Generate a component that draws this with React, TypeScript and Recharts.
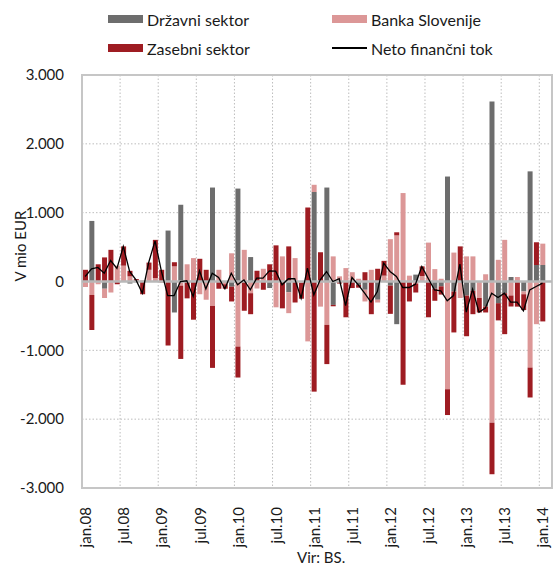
import { ComposedChart, Bar, Line, XAxis, YAxis, CartesianGrid, ReferenceLine, ReferenceArea } from 'recharts';

const monthNames = ['jan', 'feb', 'mar', 'apr', 'maj', 'jun', 'jul', 'avg', 'sep', 'okt', 'nov', 'dec'];
const years = ['08', '09', '10', '11', '12', '13', '14'];
const months = years.flatMap((y) => monthNames.map((m) => `${m}.${y}`)).slice(0, 74);

// mio EUR, jan.08 - jan.14 (feb.14 empty)
const drzavni = [
  0, 880, 0, -105, 0, 0, 0, -30, -10, 0, 0, 0,
  0, 740, -450, 1115, 0, 0, 0, 0, 1365, 0, 0, -75,
  1350, 0, 355, 0, 0, -95, 0, 0, -155, 0, 0, 0,
  1300, 0, 1365, -340, 0, 0, 0, -50, -120, 0, -265, 0,
  -60, -620, 0, 0, 100, 0, 0, -105, -70, 1525, -145, 0,
  -205, -135, 0, -365, 2615, -315, -170, 65, 0, -145, 1600, 240,
  240, null,
];
const bankaSlovenije = [
  -80, -195, -40, -135, -160, 230, 230, 75, 10, 15, 170, 50,
  -20, 0, 220, -60, 250, 340, -185, -265, -355, 170, -40, 410,
  -945, 460, -170, -100, 185, 0, -375, 365, -305, 340, -20, -870,
  105, -365, -630, 365, 75, 195, 135, 40, -170, 170, -40, 85,
  615, 670, 1285, 85, -30, 80, 565, 180, 40, -1565, 420, -240,
  365, 365, -240, 105, -2050, 315, 605, -205, 65, -40, -1250, -620,
  310, null,
];
const zasebni = [
  170, -510, 250, 350, 460, -40, 280, 80, 25, -185, 105, 555,
  170, -930, 60, -1065, -245, -555, 330, 170, -900, -105, -65, -215,
  -450, -425, -305, 155, -120, 250, 525, -390, 510, -305, -230, 1075,
  -1600, 425, -570, -20, -30, -520, -95, -40, 135, -475, 185, 215,
  -410, 45, -1500, -290, -130, 140, -520, -175, -120, -375, -595, 510,
  -590, -340, -210, -85, -750, -250, -595, -160, -365, -230, -435, 330,
  -580, null,
];
const neto = [
  73, 185, 204, 121, 305, 190, 509, 145, 24, -170, 276, 590,
  150, -204, -204, 0, 10, -218, 155, -107, 121, 58, -107, 121,
  -48, 24, -121, 48, 48, 155, 150, -48, 40, 40, -243, 194,
  -194, 24, 145, 0, 40, -349, 58, -48, -170, -300, -146, 266,
  145, 73, -87, -87, -39, 218, 48, -121, -136, -281, -204, 252,
  -446, -112, -446, -387, -170, -233, -170, -300, -300, -426, -121, -73,
  -24, null,
];
const yTicks = [-3000, -2000, -1000, 0, 1000, 2000, 3000];

const data = months.map((m, i) => ({
  month: m,
  drzavni: drzavni[i],
  bs: bankaSlovenije[i],
  zasebni: zasebni[i],
  neto: neto[i],
}));

const FONT = 'Lato, sans-serif';
const GRAY = '#6d6d6d';
const PINK = '#dc9797';
const RED = '#9e1c22';

const fmt = (v: number) => (v < 0 ? '-' : '') + String(Math.abs(v)).replace(/\B(?=(\d{3})+(?!\d))/g, '.');

const MonthTick = ({ x, y, payload }: any) => (
  <text
    x={x}
    y={y}
    transform={`rotate(-90 ${x} ${y})`}
    textAnchor="end"
    dominantBaseline="central"
    fill="#1a1a1a"
    fontSize={15}
    fontFamily={FONT}
  >
    {payload.value}
  </text>
);

const LegendItem = ({ left, top, label, color, line }: any) => (
  <div style={{ position: 'absolute', left, top, height: 20, display: 'flex', alignItems: 'center' }}>
    <div style={{ width: 35, height: line ? 1.5 : 8, background: color, marginRight: 4 }} />
    <span style={{ fontSize: 16, color: '#1a1a1a', whiteSpace: 'nowrap' }}>{label}</span>
  </div>
);

export default function App() {
  const n = months.length;
  return (
    <div style={{ position: 'absolute', left: 0, top: 0, width: 553, height: 567, background: '#fff', fontFamily: FONT, overflow: 'hidden' }}>
      <LegendItem left={108} top={9} label="Državni sektor" color={GRAY} />
      <LegendItem left={332} top={9} label="Banka Slovenije" color={PINK} />
      <LegendItem left={108} top={38} label="Zasebni sektor" color={RED} />
      <LegendItem left={332} top={38} label="Neto finančni tok" color="#000" line />

      <ComposedChart
        width={553}
        height={567}
        data={data}
        stackOffset="sign"
        barSize={5}
        margin={{ top: 75, right: 1, bottom: 49, left: 0 }}
        style={{ position: 'absolute', left: 0, top: 0 }}
      >
        <CartesianGrid
          stroke="#bdbdbd"
          strokeDasharray="1.5 2"
          verticalCoordinatesGenerator={({ offset }: any) => {
            const left = offset?.left ?? 82;
            const width = offset?.width ?? 470;
            const out: number[] = [];
            for (let k = 6; k < n; k += 6) out.push(left + (width * k) / n);
            return out;
          }}
        />
        <XAxis
          dataKey="month"
          height={30}
          interval={5}
          axisLine={false}
          tickLine={false}
          tickMargin={13}
          tick={<MonthTick />}
        />
        <YAxis
          width={82}
          domain={[-3000, 3000]}
          ticks={yTicks}
          tickFormatter={fmt}
          axisLine={false}
          tickLine={false}
          tickMargin={12}
          tick={{ fill: '#1a1a1a', fontSize: 15, fontFamily: FONT }}
          label={{ value: 'V mio EUR', angle: -90, position: 'insideLeft', dx: 16, fill: '#1a1a1a', fontSize: 15, fontFamily: FONT }}
        />
        <Bar dataKey="drzavni" stackId="a" fill={GRAY} isAnimationActive={false} />
        <Bar dataKey="bs" stackId="a" fill={PINK} isAnimationActive={false} />
        <Bar dataKey="zasebni" stackId="a" fill={RED} isAnimationActive={false} />
        <ReferenceLine y={0} stroke="#b8b8b8" strokeWidth={2.5} />
        <Line
          dataKey="neto"
          type="linear"
          stroke="#000"
          strokeWidth={1.3}
          dot={false}
          isAnimationActive={false}
        />
        <ReferenceArea y1={-3000} y2={3000} fill="none" stroke="#c6c6c6" strokeWidth={2} ifOverflow="visible" />
      </ComposedChart>

      <div style={{ position: 'absolute', left: 297, top: 549, fontSize: 15, lineHeight: '16px', color: '#1a1a1a' }}>Vir: BS.</div>
    </div>
  );
}
